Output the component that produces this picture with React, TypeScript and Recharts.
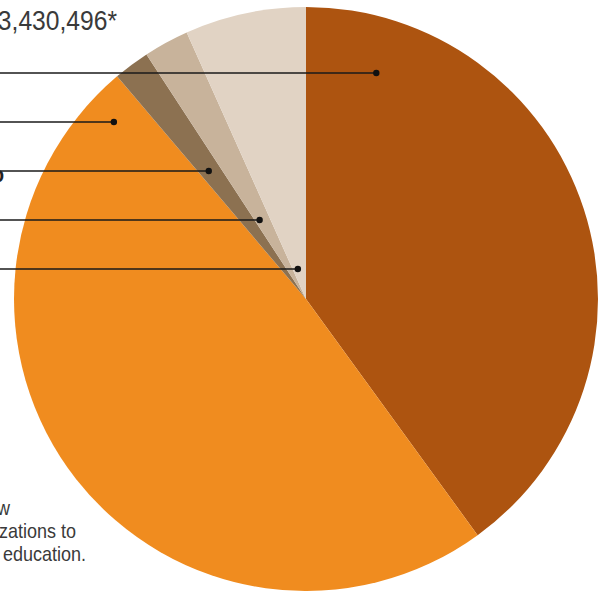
import { Pie, PieChart, Cell } from "recharts";

const sources = ["Federal", "State", "Foundations", "Corporate", "Individual"];
const shares = [40.0, 48.8, 2.0, 2.5, 6.7];
const colors = ["#ad5410", "#f08c1f", "#8c7151", "#c8b39b", "#e1d3c4"];
const totalLabel = "$13,430,496*";
const noteLines = ["new", "organizations to", "support education."];

const data = sources.map((name, i) => ({ name, value: shares[i] }));

const CX = 306;
const CY = 299;
const R = 292;
const FONT = "'Liberation Sans', Arial, sans-serif";
// callout rows (one per slice, in data order) and where inside the slice the dot sits
const rowTop = 73;
const rowGap = 49;
const dotPos = [0.12, 0.96, 0.43, 0.3, 0.37];

function Callouts() {
  const total = shares.reduce((s, v) => s + v, 0);
  let start = 0;
  return (
    <svg
      width={605}
      height={591}
      style={{ position: "absolute", left: 0, top: 0, pointerEvents: "none" }}
    >
      {shares.map((v, i) => {
        const sweep = (v / total) * 360;
        const theta = ((start + sweep * dotPos[i]) * Math.PI) / 180;
        start += sweep;
        const y = rowTop + i * rowGap;
        const x = CX + (CY - y) * Math.tan(theta);
        return (
          <g key={i}>
            <line x1={0} y1={y} x2={x} y2={y} stroke="#1a1a1a" strokeWidth={1.4} />
            <circle cx={x} cy={y} r={3.2} fill="#111" />
          </g>
        );
      })}
      <text
        transform="translate(117,30) scale(0.88,1)"
        textAnchor="end"
        fontFamily={FONT}
        fontSize={28}
        fill="#3a3a3a"
      >
        {totalLabel}
      </text>
      <text
        transform="translate(4,182) scale(0.9,1)"
        textAnchor="end"
        fontFamily={FONT}
        fontSize={22}
        fontWeight="bold"
        fill="#222"
      >
        Info
      </text>
      {noteLines.map((t, i) => (
        <text
          key={t}
          transform={`translate(${[10, 76, 86][i]},${515 + i * 23}) scale(0.9,1)`}
          textAnchor="end"
          fontFamily={FONT}
          fontSize={20}
          fill="#3a3a3a"
        >
          {t}
        </text>
      ))}
    </svg>
  );
}

export default function App() {
  return (
    <div style={{ position: "absolute", left: 0, top: 0, width: 605, height: 591 }}>
      <PieChart width={605} height={591} margin={{ top: 0, right: 0, bottom: 0, left: 0 }}>
        <Pie
          data={data}
          dataKey="value"
          cx={CX}
          cy={CY}
          outerRadius={R}
          innerRadius={0}
          startAngle={90}
          endAngle={-270}
          stroke="none"
          isAnimationActive={false}
        >
          {data.map((d, i) => (
            <Cell key={d.name} fill={colors[i]} />
          ))}
        </Pie>
      </PieChart>
      <Callouts />
    </div>
  );
}
